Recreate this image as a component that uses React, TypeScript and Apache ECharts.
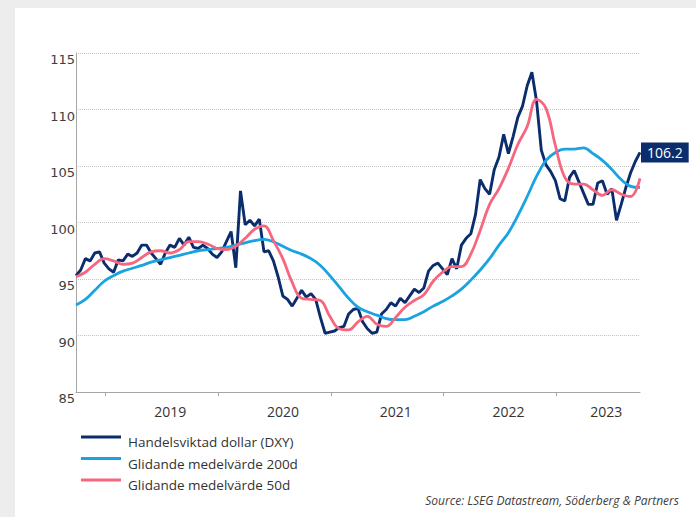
import React, { useEffect, useRef } from "react";
import * as echarts from "echarts";

// ---- data ----
const START_YEAR = 2018.74; // first observation (decimal year)
const DXY_STEP = 1 / 24; // half-month sampling
const MA_STEP = 1 / 12; // monthly sampling

const dxyValues = [
  95.3, 95.8, 96.8, 96.6, 97.3, 97.4, 96.4, 95.9, 95.6, 96.7,
  96.6, 97.2, 97.0, 97.3, 98.0, 98.0, 97.3, 96.8, 96.3, 97.3,
  98.0, 97.8, 98.6, 98.0, 98.7, 97.8, 97.7, 98.0, 97.7, 97.2,
  96.9, 97.4, 98.3, 99.2, 96.0, 102.8, 99.8, 100.2, 99.7, 100.3,
  97.4, 97.5, 96.6, 95.2, 93.5, 93.2, 92.6, 93.3, 94.0, 93.4,
  93.7, 93.2, 91.6, 90.2, 90.3, 90.4, 90.7, 90.8, 91.9, 92.3,
  92.4, 91.2, 90.6, 90.2, 90.3, 91.9, 92.3, 92.9, 92.6, 93.3,
  92.9, 93.5, 94.1, 93.8, 94.2, 95.7, 96.2, 96.4, 95.9, 95.4,
  96.8, 95.9, 98.0, 98.6, 99.0, 100.7, 103.8, 103.0, 102.5, 104.7,
  105.8, 107.8, 106.1, 107.6, 109.3, 110.3, 112.1, 113.3, 110.7, 106.4,
  105.1, 104.5, 103.7, 102.1, 101.9, 104.0, 104.6, 103.6, 102.6, 101.6,
  101.6, 103.5, 103.7, 102.5, 103.0, 100.2, 101.6, 103.1, 104.4, 105.4,
  106.2,
];

const ma200Values = [
  92.7, 93.2, 94.0, 94.8, 95.3, 95.7, 95.95, 96.2, 96.5, 96.7,
  96.9, 97.1, 97.3, 97.5, 97.6, 97.7, 97.8, 98.0, 98.2, 98.4,
  98.5, 98.3, 97.9, 97.5, 97.2, 96.8, 96.2, 95.3, 94.3, 93.3,
  92.5, 92.1, 91.8, 91.5, 91.4, 91.4, 91.7, 92.1, 92.6, 93.0,
  93.5, 94.1, 94.9, 95.8, 96.8, 98.0, 99.1, 100.6, 102.3, 104.1,
  105.5, 106.2, 106.5, 106.5, 106.6, 106.1, 105.5, 104.7, 103.8, 103.2,
  103.1,
];

const ma50Values = [
  95.2, 95.6, 96.3, 96.8, 96.6, 96.3, 96.4, 96.9, 97.4, 97.5,
  97.3, 97.6, 98.3, 98.3, 98.1, 97.7, 97.6, 97.9, 98.6, 99.4,
  99.7, 98.4, 96.8, 94.7, 93.3, 93.2, 93.1, 91.7, 90.6, 90.5,
  91.2, 91.7, 91.0, 90.8, 91.6, 92.5, 93.1, 93.6, 94.8, 95.6,
  96.1, 96.1, 97.2, 99.3, 101.6, 103.0, 104.8, 106.9, 108.5, 110.9,
  110.1, 106.8, 104.0, 103.4, 103.4, 102.9, 102.4, 102.9, 102.5, 102.3,
  103.9,
];

const yearTicks = [2019, 2020, 2021, 2022, 2023];
const yearLabelPositions = [2019.575, 2020.575, 2021.575, 2022.575, 2023.44];
const yTicks = { min: 85, max: 115, step: 5 };
const seriesNames = [
  "Handelsviktad dollar (DXY)",
  "Glidande medelvärde 200d",
  "Glidande medelvärde 50d",
];
const sourceText = "Source: LSEG Datastream, Söderberg & Partners";

const COLORS = { dxy: "#0b2d6c", ma200: "#19a3e1", ma50: "#f7667f" };

export default function App() {
  const ref = useRef<HTMLDivElement>(null);

  useEffect(() => {
    if (!ref.current) return;
    const chart = echarts.init(ref.current, undefined, { renderer: "svg" });

    const toPairs = (vals: number[], step: number) =>
      vals.map((v, i) => [START_YEAR + i * step, v]);
    const endYear = START_YEAR + (dxyValues.length - 1) * DXY_STEP;
    const lastDxy = dxyValues[dxyValues.length - 1];

    const legendColors = [COLORS.dxy, COLORS.ma200, COLORS.ma50];
    const legendGraphics: any[] = [];
    seriesNames.forEach((name, k) => {
      legendGraphics.push({
        type: "line",
        shape: { x1: 81, y1: 437 + k * 21.5, x2: 121, y2: 437 + k * 21.5 },
        style: { stroke: legendColors[k], lineWidth: 3 },
      });
      legendGraphics.push({
        type: "text",
        x: 128,
        y: 442 + k * 21.5,
        style: {
          text: name,
          font: '13.5px "Open Sans"',
          fill: "#333333",
          verticalAlign: "middle",
        },
      });
    });
    legendGraphics.push({
      type: "text",
      x: 679,
      y: 500,
      style: {
        text: sourceText,
        font: 'italic 12px "Open Sans"',
        fill: "#404040",
        align: "right",
        verticalAlign: "middle",
      },
    });

    chart.setOption({
      animation: false,
      grid: { left: 76, right: 56, top: 53, bottom: 125, containLabel: false, outerBoundsMode: "none" },
      xAxis: {
        type: "value",
        min: START_YEAR,
        max: endYear,
        axisLine: { show: true, lineStyle: { color: "#a6a6a6", width: 1 } },
        axisTick: {
          show: true,
          customValues: yearTicks,
          length: 4,
          lineStyle: { color: "#a6a6a6" },
        },
        axisLabel: {
          customValues: yearLabelPositions,
          formatter: (v: number) => String(Math.floor(v + 1e-6)),
          fontFamily: "Open Sans",
          fontSize: 14,
          color: "#333333",
          margin: 12,
        },
        splitLine: { show: false },
      },
      yAxis: {
        type: "value",
        min: yTicks.min,
        max: yTicks.max,
        interval: yTicks.step,
        axisLine: { show: true, lineStyle: { color: "#a6a6a6", width: 1 } },
        axisTick: { show: false },
        axisLabel: {
          fontFamily: "DejaVu Sans",
          fontSize: 13,
          color: "#404040",
          verticalAlign: "top",
          margin: 1,
        },
        splitLine: { show: true, lineStyle: { type: "dotted", color: "#c4c4c4", width: 1 } },
      },
      series: [
        {
          name: seriesNames[0],
          type: "line",
          data: toPairs(dxyValues, DXY_STEP),
          symbol: "none",
          lineStyle: { color: COLORS.dxy, width: 2.9 },
          itemStyle: { color: COLORS.dxy },
          z: 2,
          endLabel: {
            show: true,
            formatter: () => lastDxy.toFixed(1),
            backgroundColor: COLORS.dxy,
            color: "#ffffff",
            fontFamily: "Open Sans",
            fontSize: 14,
            padding: [3, 6, 3, 6],
            distance: 1,
          },
        },
        {
          name: seriesNames[1],
          type: "line",
          data: toPairs(ma200Values, MA_STEP),
          symbol: "none",
          smooth: 0.4,
          lineStyle: { color: COLORS.ma200, width: 2.8 },
          itemStyle: { color: COLORS.ma200 },
          z: 3,
        },
        {
          name: seriesNames[2],
          type: "line",
          data: toPairs(ma50Values, MA_STEP),
          symbol: "none",
          smooth: 0.4,
          lineStyle: { color: COLORS.ma50, width: 2.8 },
          itemStyle: { color: COLORS.ma50 },
          z: 4,
        },
      ],
      graphic: legendGraphics,
    });

    return () => chart.dispose();
  }, []);

  return (
    <div
      style={{
        position: "absolute",
        left: 0,
        top: 0,
        width: 696,
        height: 517,
        background: "#eeeded",
        overflow: "hidden",
      }}
    >
      <div
        style={{
          position: "absolute",
          left: 15,
          top: 8,
          right: 0,
          bottom: 0,
          background: "#ffffff",
        }}
      />
      <div ref={ref} style={{ position: "absolute", left: 0, top: 0, width: 696, height: 517 }} />
    </div>
  );
}
